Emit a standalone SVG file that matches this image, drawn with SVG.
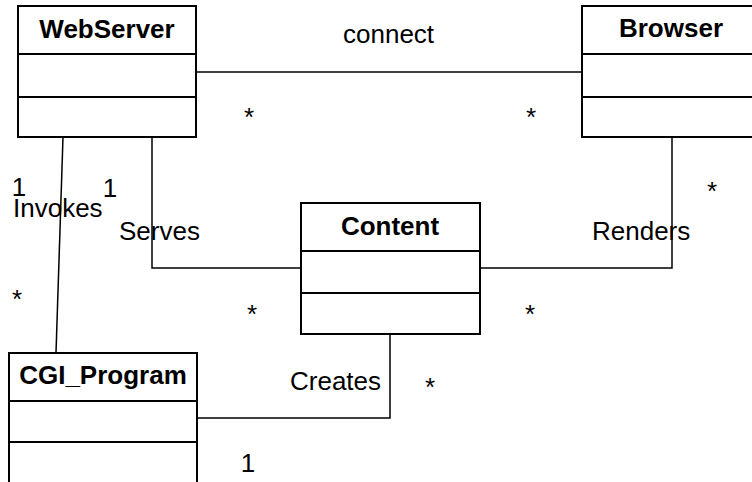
<svg xmlns="http://www.w3.org/2000/svg" width="752" height="482" viewBox="0 0 752 482">
<style>
.box{fill:#fff;stroke:#000;stroke-width:2}
.div{stroke:#000;stroke-width:2}
.title{font-family:"Liberation Sans",Arial,sans-serif;font-size:26px;font-weight:bold;text-anchor:middle;fill:#000}
.lbl{font-family:"Liberation Sans",Arial,sans-serif;font-size:26px;fill:#000}
.m{text-anchor:middle}
.conn{fill:none;stroke:#000;stroke-width:1.5}
</style>
<rect width="752" height="482" fill="#fff"/>
<g id="connectors">
<polyline class="conn" points="196,72 582,72"/>
<polyline class="conn" points="63,137 56,353"/>
<polyline class="conn" points="152,137 152,268 301,268"/>
<polyline class="conn" points="672,137 672,268 480,268"/>
<polyline class="conn" points="390,334 390,418 197,418"/>
</g>
<g id="WebServer">
<rect class="box" x="18" y="6" width="178" height="131"/>
<line class="div" x1="18" y1="54" x2="196" y2="54"/>
<line class="div" x1="18" y1="97" x2="196" y2="97"/>
<text class="title" x="107" y="38">WebServer</text>
</g>
<g id="Browser">
<rect class="box" x="582" y="6" width="178" height="131"/>
<line class="div" x1="582" y1="54" x2="760" y2="54"/>
<line class="div" x1="582" y1="97" x2="760" y2="97"/>
<text class="title" x="671" y="37">Browser</text>
</g>
<g id="Content">
<rect class="box" x="301" y="203" width="179" height="131"/>
<line class="div" x1="301" y1="251" x2="480" y2="251"/>
<line class="div" x1="301" y1="293" x2="480" y2="293"/>
<text class="title" x="390" y="235">Content</text>
</g>
<g id="CGI_Program">
<rect class="box" x="9" y="353" width="188" height="140"/>
<line class="div" x1="9" y1="401" x2="197" y2="401"/>
<line class="div" x1="9" y1="442" x2="197" y2="442"/>
<text class="title" x="103" y="384">CGI_Program</text>
</g>
<g id="labels">
<text class="lbl" x="343" y="43">connect</text>
<text class="lbl m" x="249" y="126">*</text>
<text class="lbl m" x="531" y="126">*</text>
<text class="lbl m" x="19" y="196">1</text>
<text class="lbl m" x="110" y="197">1</text>
<text class="lbl" x="13" y="217">Invokes</text>
<text class="lbl" x="119" y="240">Serves</text>
<text class="lbl" x="592" y="240">Renders</text>
<text class="lbl m" x="712" y="200">*</text>
<text class="lbl m" x="17" y="308">*</text>
<text class="lbl m" x="252" y="323">*</text>
<text class="lbl m" x="530" y="323">*</text>
<text class="lbl" x="290" y="390">Creates</text>
<text class="lbl m" x="430" y="396">*</text>
<text class="lbl m" x="248" y="472">1</text>
</g>
</svg>
